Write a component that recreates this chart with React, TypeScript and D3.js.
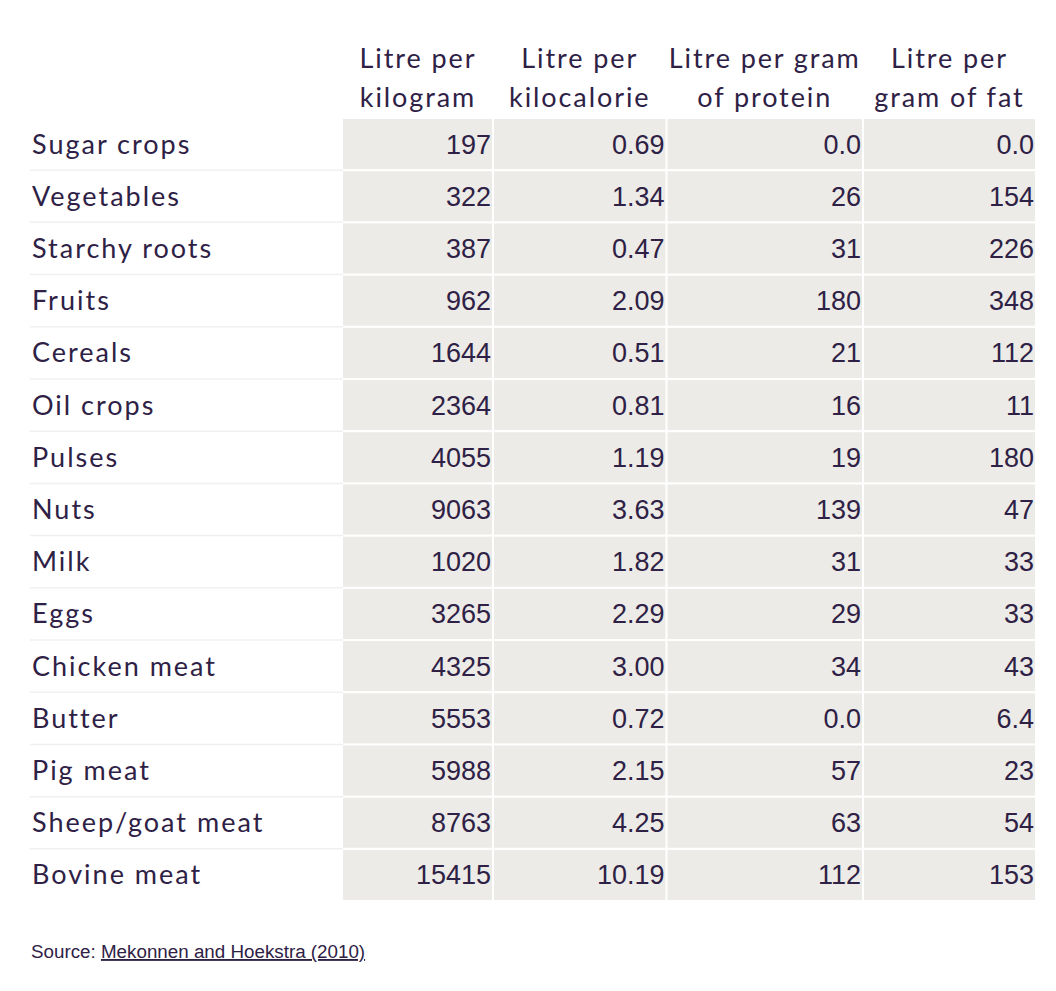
import * as d3 from 'd3';
import React from 'react';

// ---- data ----
const foods = [
  'Sugar crops', 'Vegetables', 'Starchy roots', 'Fruits', 'Cereals',
  'Oil crops', 'Pulses', 'Nuts', 'Milk', 'Eggs', 'Chicken meat',
  'Butter', 'Pig meat', 'Sheep/goat meat', 'Bovine meat'
];
const headers = [
  ['Litre per', 'kilogram'],
  ['Litre per', 'kilocalorie'],
  ['Litre per gram', 'of protein'],
  ['Litre per', 'gram of fat']
];
const perKilogram = [197, 322, 387, 962, 1644, 2364, 4055, 9063, 1020, 3265, 4325, 5553, 5988, 8763, 15415];
const perKilocalorie = [0.69, 1.34, 0.47, 2.09, 0.51, 0.81, 1.19, 3.63, 1.82, 2.29, 3.00, 0.72, 2.15, 4.25, 10.19];
const perProtein = [0, 26, 31, 180, 21, 16, 19, 139, 31, 29, 34, 0, 57, 63, 112];
const perFat = [0, 154, 226, 348, 112, 11, 180, 47, 33, 33, 43, 6.4, 23, 54, 153];

// ---- layout ----
const W = 1056, H = 991;
const TEXT = '#2e2145';
const CELL = '#ecebe7';
const LABEL_FONT = 'Lato, "Noto Sans", sans-serif';
const NUM_FONT = '"Liberation Sans", Arial, sans-serif';
const colEdges = [343, 493, 666.5, 863, 1036];
const gap = 2;

const small = d3.format('.1f');
const whole = d3.format('d');
const formats = [
  (v: number) => whole(v),
  d3.format('.2f'),
  (v: number) => (v < 10 ? small(v) : whole(v)),
  (v: number) => (v < 10 ? small(v) : whole(v))
];
const columns = [perKilogram, perKilocalorie, perProtein, perFat];

export default function App() {
  const y = d3.scaleBand<string>().domain(foods).range([119, 900]).paddingInner(0.04);
  const step = y.step();

  return (
    <svg width={W} height={H} style={{ position: 'absolute', left: 0, top: 0 }}>
      {/* header */}
      {headers.map((lines, c) => {
        const cx = (colEdges[c] + colEdges[c + 1]) / 2;
        return lines.map((t, i) => (
          <text key={`h${c}${i}`} x={cx} y={68 + i * 39} textAnchor="middle"
            fill={TEXT} fontFamily={LABEL_FONT} fontSize={27} letterSpacing={1.9}>{t}</text>
        ));
      })}

      {foods.map((f, r) => {
        const top = y(f)!;
        const mid = top + y.bandwidth() / 2;
        const sep = top + y.bandwidth() + (step - y.bandwidth()) / 2;
        return (
          <g key={f}>
            {r < foods.length - 1 && (
              <line x1={30} x2={343} y1={sep} y2={sep} stroke="#f1f0ee" strokeWidth={1.5} />
            )}
            <text x={32} y={mid + 9.5} fill={TEXT} fontFamily={LABEL_FONT} fontSize={27}
              letterSpacing={2}>{f}</text>
            {columns.map((vals, c) => (
              <g key={c}>
                <rect x={colEdges[c] + (c ? gap / 2 : 0)} y={top}
                  width={colEdges[c + 1] - colEdges[c] - (c ? gap : gap / 2)} height={y.bandwidth()} fill={CELL} />
                <text x={colEdges[c + 1] - gap / 2 - 1} y={mid + 9.5} textAnchor="end"
                  fill={TEXT} fontFamily={NUM_FONT} fontSize={27}>{formats[c](vals[r])}</text>
              </g>
            ))}
          </g>
        );
      })}

      <text x={31} y={958} fill={TEXT} fontFamily={NUM_FONT} fontSize={18.8}>
        Source: <tspan textDecoration="underline">Mekonnen and Hoekstra (2010)</tspan>
      </text>
    </svg>
  );
}
